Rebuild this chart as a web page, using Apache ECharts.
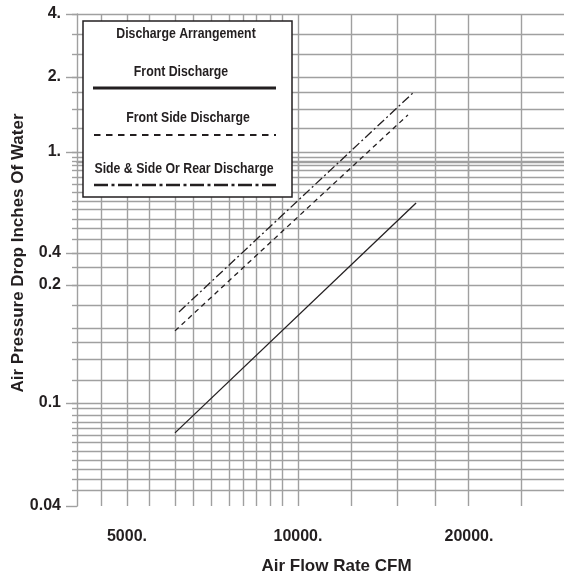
<!DOCTYPE html>
<html><head><meta charset="utf-8">
<script src="https://cdn.jsdelivr.net/npm/echarts@6/dist/echarts.min.js"></script>
<style>html,body{margin:0;padding:0;background:#fff}#c{width:564px;height:575px}</style>
</head><body><div id="c"></div>
<script>
// ---- data (log-log chart) ----
const seriesNames = ['Front Discharge', 'Front Side Discharge', 'Side & Side Or Rear Discharge'];
const legendTitle = 'Discharge Arrangement';
const frontFlow = [6074, 16140];
const frontDrop = [0.0793, 0.682];
const frontSideFlow = [6074, 15620];
const frontSideDrop = [0.206, 1.556];
const sideRearFlow = [6173, 16000];
const sideRearDrop = [0.246, 1.927];

const xRange = [4083, 29400];
const yRange = [0.04, 4];
const xTickValues = [5000, 10000, 20000];
const xTickLabels = ['5000.', '10000.', '20000.'];
const yTickLabels = ['0.04', '0.1', '0.2', '0.4', '1.', '2.', '4.'];
const yTickAt = [0.04, 0.105, 0.317, 0.427, 1.099, 2.218, 4];   // where the reference prints them
const xGrid = [4500, 5000, 5466, 6074, 6533, 7028, 7559, 8001, 8436, 8929, 9373, 10000, 12397, 14939, 17426, 19922, 24694];
const yGrid = [0.0465, 0.0515, 0.0566, 0.0615, 0.0669, 0.0728, 0.0777, 0.083, 0.0878, 0.0938, 0.1, 0.105,
  0.13, 0.158, 0.186, 0.212, 0.263, 0.317, 0.375, 0.427, 0.487, 0.54, 0.587, 0.645, 0.695, 0.756, 0.815,
  0.87, 0.929, 0.973, 1.01, 1.049, 1.099, 1.376, 1.644, 1.927, 2.218, 2.751, 3.318, 4];
const xLongTicks = [5000, 6074, 7028, 8001, 8436, 8929, 9373, 19922];
const xShortTicks = [4500, 5466, 6533, 7559, 10000, 14939, 24694];

// ---- build ----
const L = Math.log10;
const pts = (xs, ys) => xs.map((x, i) => [L(x), L(ys[i])]);
const pick = (vals, labels) => v => {
  let best = 0, d = Infinity;
  vals.forEach((x, i) => { const e = Math.abs(L(x) - v); if (e < d) { d = e; best = i; } });
  return labels[best];
};
const TXT = '#231f20';
const GC = '#a0a0a0';
const AX_FONT = "'Liberation Sans', Arial, sans-serif";
const LG_FONT = "bold 15px 'Liberation Sans', Arial, sans-serif";

const xBase = { type: 'value', min: L(xRange[0]), max: L(xRange[1]), position: 'bottom', gridIndex: 0 };
const yBase = { type: 'value', min: L(yRange[0]), max: L(yRange[1]), position: 'left', gridIndex: 0 };
const nameStyle = { fontFamily: AX_FONT, fontSize: 17, fontWeight: 'bold', color: TXT };

const option = {
  animation: false,
  backgroundColor: '#fff',
  grid: { left: 77, right: 0, top: 14, bottom: 69, containLabel: false, outerBoundsMode: 'none' },
  xAxis: [
    Object.assign({}, xBase, {
      axisLine: { show: true, lineStyle: { color: GC, width: 1.4 } },
      axisTick: { show: false, customValues: xGrid.map(L) },
      splitLine: { show: true, lineStyle: { color: GC, width: 1.4 } },
      axisLabel: { customValues: xTickValues.map(L), formatter: pick(xTickValues, xTickLabels),
        margin: 23, fontFamily: AX_FONT, fontSize: 16, fontWeight: 'bold', color: TXT },
      name: 'Air Flow Rate CFM', nameLocation: 'middle', nameGap: 52,
      nameTextStyle: Object.assign({ padding: [0, 0, 0, 32] }, nameStyle)
    }),
    Object.assign({}, xBase, {
      axisLine: { show: false }, splitLine: { show: false }, axisLabel: { show: false },
      axisTick: { show: true, customValues: xLongTicks.map(L), length: 17, lineStyle: { color: GC, width: 1.4 } }
    }),
    Object.assign({}, xBase, {
      axisLine: { show: false }, splitLine: { show: false }, axisLabel: { show: false },
      axisTick: { show: true, customValues: xShortTicks.map(L), length: 9, lineStyle: { color: GC, width: 1.4 } }
    })
  ],
  yAxis: [
    Object.assign({}, yBase, {
      axisLine: { show: true, lineStyle: { color: GC, width: 1.4 } },
      axisTick: { show: false, customValues: yGrid.map(L) },
      splitLine: { show: true, lineStyle: { color: GC, width: 1.4 } },
      axisLabel: { customValues: yTickAt.map(L), formatter: pick(yTickAt, yTickLabels),
        margin: 16, fontFamily: AX_FONT, fontSize: 16, fontWeight: 'bold', color: TXT },
      name: 'Air Pressure Drop Inches Of Water', nameLocation: 'middle', nameGap: 50, nameMoveOverlap: false,
      nameTextStyle: Object.assign({ padding: [0, 0, 0, 14] }, nameStyle)
    }),
    Object.assign({}, yBase, {
      axisLine: { show: false }, splitLine: { show: false }, axisLabel: { show: false },
      axisTick: { show: true, customValues: yTickAt.map(L), length: 11, lineStyle: { color: GC, width: 1.4 } }
    }),
    Object.assign({}, yBase, {
      axisLine: { show: false }, splitLine: { show: false }, axisLabel: { show: false },
      axisTick: { show: true, customValues: yGrid.map(L), length: 5, lineStyle: { color: GC, width: 1.4 } }
    })
  ],
  series: [
    { name: seriesNames[0], type: 'line', data: pts(frontFlow, frontDrop), showSymbol: false, silent: true,
      lineStyle: { color: TXT, width: 1.3, type: 'solid' } },
    { name: seriesNames[1], type: 'line', data: pts(frontSideFlow, frontSideDrop), showSymbol: false, silent: true,
      lineStyle: { color: TXT, width: 1.3, type: [5, 4] } },
    { name: seriesNames[2], type: 'line', data: pts(sideRearFlow, sideRearDrop), showSymbol: false, silent: true,
      lineStyle: { color: TXT, width: 1.3, type: [9, 3, 2, 3] } }
  ],
  graphic: [
    { type: 'rect', z: 100, shape: { x: 83, y: 21, width: 209, height: 176 },
      style: { fill: '#fff', stroke: TXT, lineWidth: 1.5 } },
    { type: 'text', z: 101, x: 186, y: 34, scaleX: 0.82, style: { text: legendTitle, font: LG_FONT, fill: TXT, align: 'center', verticalAlign: 'middle' } },
    { type: 'text', z: 101, x: 181, y: 72, scaleX: 0.82, style: { text: seriesNames[0], font: LG_FONT, fill: TXT, align: 'center', verticalAlign: 'middle' } },
    { type: 'line', z: 101, shape: { x1: 93, y1: 88, x2: 276, y2: 88 }, style: { stroke: TXT, lineWidth: 3 } },
    { type: 'text', z: 101, x: 188, y: 118, scaleX: 0.82, style: { text: seriesNames[1], font: LG_FONT, fill: TXT, align: 'center', verticalAlign: 'middle' } },
    { type: 'line', z: 101, shape: { x1: 94, y1: 135, x2: 276, y2: 135 }, style: { stroke: TXT, lineWidth: 2.2, lineDash: [6.5, 5.5] } },
    { type: 'text', z: 101, x: 184, y: 169, scaleX: 0.82, style: { text: seriesNames[2], font: LG_FONT, fill: TXT, align: 'center', verticalAlign: 'middle' } },
    { type: 'line', z: 101, shape: { x1: 94, y1: 185, x2: 277, y2: 185 }, style: { stroke: TXT, lineWidth: 2.6, lineDash: [14, 3.5, 3, 3.5] } }
  ]
};
option.series.forEach(s => { s.xAxisIndex = 0; s.yAxisIndex = 0; });
const chart = echarts.init(document.getElementById('c'), null, { renderer: 'canvas' });
chart.setOption(option);
</script>
</body></html>
